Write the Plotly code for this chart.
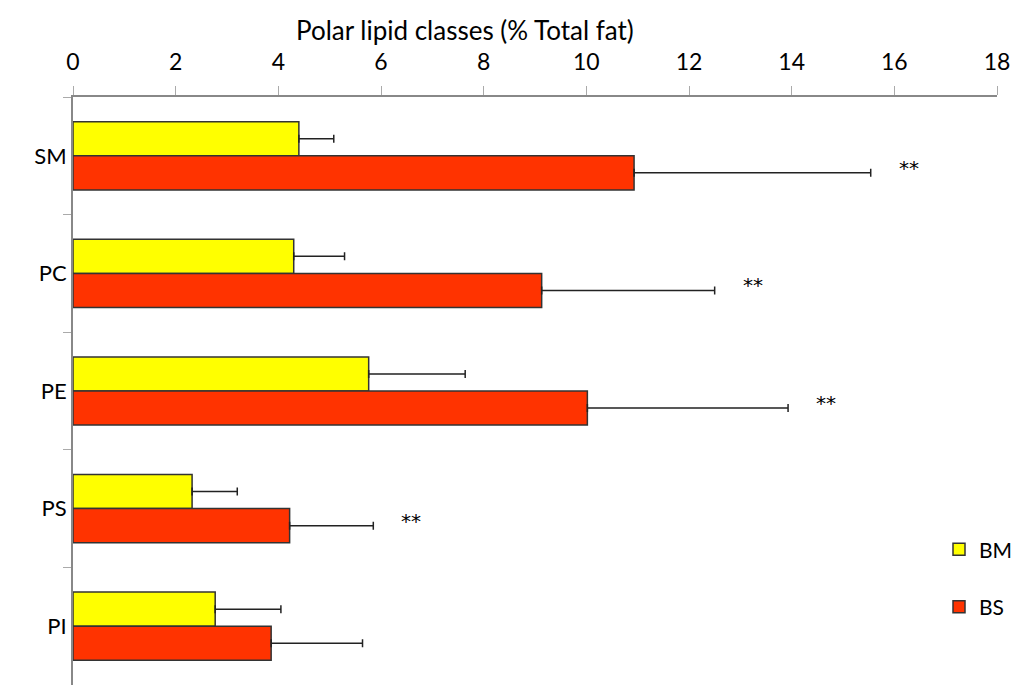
import plotly.graph_objects as go

categories = ["SM", "PC", "PE", "PS", "PI"]
bm_values = [4.40, 4.30, 5.76, 2.32, 2.77]
bm_errors = [0.68, 0.99, 1.88, 0.88, 1.28]
bs_values = [10.93, 9.13, 10.02, 4.22, 3.86]
bs_errors = [4.61, 3.37, 3.91, 1.63, 1.78]
significance = ["**", "**", "**", "**", ""]
x_ticks = [0, 2, 4, 6, 8, 10, 12, 14, 16, 18]
x_title = "Polar lipid classes (% Total fat)"

FONT = "Lato, Carlito, Calibri, sans-serif"
EDGE = "#333333"

fig = go.Figure()
fig.add_trace(go.Bar(
    y=categories, x=bm_values, orientation="h", name="BM",
    marker=dict(color="#FFFF00", line=dict(color=EDGE, width=1.5)),
    error_x=dict(type="data", symmetric=False, array=bm_errors,
                 arrayminus=[0] * len(bm_errors), color="#222222",
                 thickness=1.5, width=4),
    legendgroup="bm",
))
fig.add_trace(go.Bar(
    y=categories, x=bs_values, orientation="h", name="BS",
    marker=dict(color="#FF3300", line=dict(color=EDGE, width=1.5)),
    error_x=dict(type="data", symmetric=False, array=bs_errors,
                 arrayminus=[0] * len(bs_errors), color="#222222",
                 thickness=1.5, width=4),
    legendgroup="bs",
))

for cat, v, e, s in zip(categories, bs_values, bs_errors, significance):
    if s:
        fig.add_annotation(x=v + e, y=cat, text=s, showarrow=False,
                           xanchor="left", xshift=26, yshift=-12,
                           yref="y",
                           font=dict(size=20, color="#000",
                                     family="DejaVu Sans, sans-serif"))

# axis title drawn as annotation (positioned like the reference, left of centre)
fig.add_annotation(text=x_title, xref="paper", yref="paper", x=0.424, y=1,
                   xanchor="center", yanchor="middle", yshift=67,
                   showarrow=False, font=dict(size=26, family=FONT, color="#000"))

fig.update_layout(
    width=1018, height=685,
    margin=dict(l=73, r=16, t=97, b=0),
    paper_bgcolor="white", plot_bgcolor="white",
    barmode="group", bargap=0.42, bargroupgap=0,
    font=dict(family=FONT, size=21, color="#000"),
    showlegend=True,
    legend=dict(x=0.9375, y=0.265, xanchor="left", yanchor="top",
                font=dict(size=21, family=FONT), tracegroupgap=27,
                itemwidth=30, bgcolor="rgba(0,0,0,0)"),
    xaxis=dict(
        side="top", range=[0, 18], tickvals=x_ticks, automargin=False,
        showline=True, linecolor="#888888", linewidth=2,
        ticks="outside", ticklen=9, tickcolor="#aaaaaa", tickwidth=1,
        showgrid=False, zeroline=False, ticklabelstandoff=7,
        tickfont=dict(size=23, family=FONT),
    ),
    yaxis=dict(
        autorange="reversed", type="category", automargin=False,
        showline=True, linecolor="#888888", linewidth=2,
        ticks="outside", ticklen=8, tickcolor="#aaaaaa", tickwidth=1,
        tickson="boundaries", showgrid=False, zeroline=False,
        tickfont=dict(size=22, family=FONT), ticklabelstandoff=0,
    ),
)

fig.write_html("out.html", config={"displayModeBar": False},
               post_script="document.body.style.margin='0';"
                           "document.body.style.overflow='hidden';")
